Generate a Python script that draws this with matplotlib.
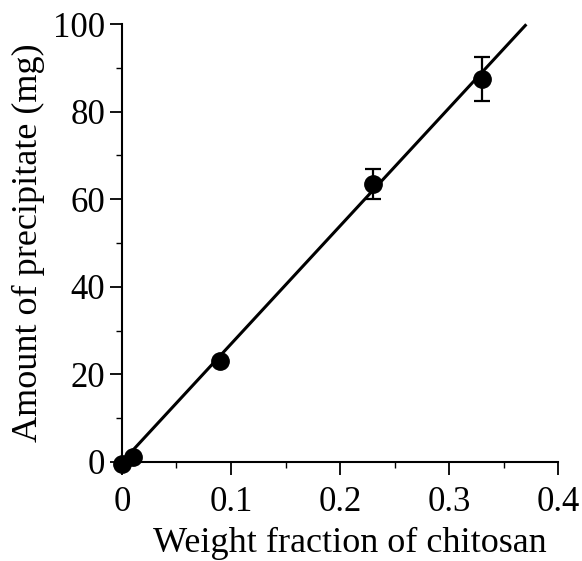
import matplotlib
matplotlib.use('Agg')
import matplotlib.pyplot as plt
from matplotlib.ticker import MultipleLocator

plt.rcParams['font.family'] = 'Liberation Serif'
plt.rcParams['font.size'] = 26

# 데이터
frac = [0, 0.01, 0.09, 0.23, 0.33]
amount = [-0.5, 1.2, 23, 63.5, 87.5]
err = [0, 0, 0, 3.5, 5]
fit_x = [0, 0.37]
fit_y = [0, 99.7]

fig = plt.figure(figsize=(5.82, 5.61), dpi=100)
ax = fig.add_axes([0.2096, 0.1765, 0.7492, 0.7805])

ax.plot(fit_x, fit_y, color='black', lw=2.2, clip_on=False)
ax.errorbar(frac, amount, yerr=err, fmt='o', color='black', ms=12.5,
            elinewidth=1.6, capsize=6, capthick=1.6, clip_on=False, zorder=3)

ax.set_xlim(0, 0.4)
ax.set_ylim(0, 100)
ax.set_xticks([0, 0.1, 0.2, 0.3, 0.4])
ax.set_xticklabels(['0', '0.1', '0.2', '0.3', '0.4'])
ax.xaxis.set_minor_locator(MultipleLocator(0.05))
ax.yaxis.set_major_locator(MultipleLocator(20))
ax.yaxis.set_minor_locator(MultipleLocator(10))

for s in ['top', 'right']:
    ax.spines[s].set_visible(False)
for s in ['left', 'bottom']:
    ax.spines[s].set_linewidth(1.5)
ax.tick_params(which='major', direction='out', length=9, width=1.3, labelsize=25)
ax.tick_params(axis='x', which='major', pad=8)
ax.tick_params(axis='y', which='major', pad=3)
ax.tick_params(which='minor', direction='out', length=4, width=1.0)

ax.set_xlabel('Weight fraction of chitosan', labelpad=6)
ax.xaxis.label.set_x(0.523)
ax.set_ylabel('Amount of precipitate (mg)', labelpad=6)

fig.savefig('out.png', dpi=100)
